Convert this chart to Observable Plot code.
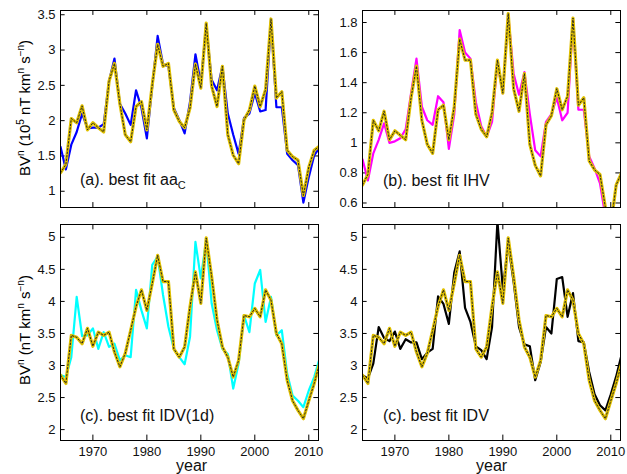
<!DOCTYPE html>
<html><head><meta charset="utf-8">
<script src="https://cdn.jsdelivr.net/npm/d3@7"></script>
<script src="https://cdn.jsdelivr.net/npm/@observablehq/plot@0.6"></script>
<style>
body{margin:0;background:#fff;font-family:"Liberation Sans",Arial,sans-serif;}
#root{position:relative;width:627px;height:474px;}
.p{position:absolute;}
.lab{position:absolute;font-size:16px;color:#111;white-space:nowrap;}
.ylab{position:absolute;font-size:15px;white-space:nowrap;transform:translate(-50%,-50%) rotate(-90deg);}
sup{font-size:10px;} sub{font-size:11px;}
</style></head><body><div id="root"></div>
<script>
const years = d3.range(1964, 2013);
const aaC = [1.63,1.31,1.66,1.84,2.1,1.89,1.9,1.9,1.95,2.56,2.88,2.24,2.1,1.94,2.43,2.18,1.75,2.49,3.2,2.8,2.77,2.18,2.01,1.82,2.27,2.94,2.53,3.34,2.58,2.43,2.77,2.1,1.8,1.53,2.04,2.1,2.39,2.13,2.15,3.42,2.19,2.19,1.53,1.44,1.37,0.84,1.2,1.51,1.62];
const fitA = [1.26,1.38,2.03,1.97,2.21,1.87,1.97,1.9,1.84,2.56,2.81,2.24,1.8,1.7,2.2,2.27,1.87,2.51,3.08,2.77,2.81,2.15,1.99,1.9,2.18,2.8,2.46,3.38,2.49,2.2,2.77,1.8,1.51,1.39,2.01,2.15,2.49,2.2,2.44,3.44,2.32,2.41,1.58,1.49,1.44,0.94,1.34,1.58,1.64];
const ihv = [0.89,0.75,0.93,1.02,1.13,1.0,1.01,1.03,1.09,1.33,1.56,1.24,1.15,1.12,1.31,1.27,0.96,1.19,1.75,1.6,1.56,1.27,1.11,1.04,1.14,1.54,1.33,1.85,1.46,1.32,1.47,1.19,0.95,0.91,1.14,1.19,1.30,1.15,1.2,1.82,1.22,1.22,0.91,0.83,0.73,0.51,0.42,0.35,0.3];
const fitB = [0.72,0.79,1.15,1.08,1.21,1.02,1.08,1.05,1.02,1.30,1.51,1.15,0.99,0.93,1.22,1.25,1.02,1.24,1.69,1.55,1.55,1.19,1.09,1.04,1.2,1.55,1.33,1.86,1.36,1.21,1.46,0.99,0.85,0.78,1.12,1.18,1.36,1.22,1.31,1.83,1.25,1.30,0.88,0.82,0.79,0.57,0.45,0.72,0.8];
const idv1d = [2.85,2.82,3.13,4.07,3.46,3.47,3.58,3.26,3.52,3.29,3.34,3.08,3.16,3.13,4.18,3.86,3.58,4.57,4.7,4.1,3.6,3.26,3.13,3.02,3.45,4.93,4.36,4.96,3.97,3.55,3.26,3.18,2.64,3.03,3.78,3.52,4.28,4.49,3.68,4.07,3.47,3.55,2.87,2.53,2.45,2.35,2.61,2.82,3.11];
const fitC = [2.85,2.72,3.47,3.44,3.34,3.58,3.30,3.52,3.47,3.52,3.21,2.98,3.19,3.55,3.92,4.18,3.86,4.28,4.72,4.31,4.31,3.26,3.13,3.29,3.92,4.46,3.97,4.99,4.39,3.71,3.29,3.13,2.82,3.08,3.78,3.76,3.89,3.76,4.18,4.02,3.50,3.34,2.77,2.45,2.30,2.17,2.45,2.72,3.03];
const idv = [2.85,2.8,3.03,3.6,3.43,3.38,3.53,3.26,3.41,3.36,3.36,3.1,3.2,3.26,4.08,3.96,3.65,4.45,4.78,3.9,3.68,3.3,3.24,3.1,3.6,5.25,4.2,4.9,4.3,3.6,3.33,3.3,2.77,3.05,3.6,3.5,4.35,4.38,3.76,4.13,3.38,3.36,2.9,2.55,2.38,2.3,2.55,2.83,3.17];
const fitD = fitC;
const xTicks = [1970,1980,1990,2000,2010];
const panels = [
 {obs:aaC, fit:fitA, color:"#0000ff", ydom:[0.77,3.56], yt:[1,1.5,2,2.5,3,3.5], left:60, top:10, h:197, xlab:false, fmt:d=>String(d)},
 {obs:ihv, fit:fitB, color:"#ff00ff", ydom:[0.57,1.88], yt:[0.6,0.8,1,1.2,1.4,1.6,1.8], left:362, top:10, h:197, xlab:false, fmt:d=>String(d)},
 {obs:idv1d, fit:fitC, color:"#00ffff", ydom:[1.83,5.2], yt:[2,2.5,3,3.5,4,4.5,5], left:60, top:224, h:216, xlab:true, fmt:d=>String(d)},
 {obs:idv, fit:fitD, color:"#000000", ydom:[1.83,5.2], yt:[2,2.5,3,3.5,4,4.5,5], left:362, top:224, h:216, xlab:true, fmt:d=>String(d)}
];
const xdom=[1964,2011.8];
const root=document.getElementById("root");
panels.forEach(p=>{
  const obs=years.map((y,i)=>({x:y,v:p.obs[i]}));
  const fit=years.map((y,i)=>({x:y,v:p.fit[i]}));
  const ys=p.ydom[1]-p.ydom[0], tl=ys*0.025, tx=(xdom[1]-xdom[0])*0.018;
  const ml=40, mt=4, mb=p.xlab?24:4, mr=6;
  const chart=Plot.plot({
    width:258+ml+mr, height:p.h+mt+mb, marginLeft:ml, marginRight:mr, marginTop:mt, marginBottom:mb,
    style:{fontFamily:"Liberation Sans, Arial, sans-serif", fontSize:"13px", color:"#111", background:"transparent"},
    x:{domain:xdom}, y:{domain:p.ydom},
    marks:[
      Plot.axisY(p.yt,{tickSize:0, tickPadding:5, tickFormat:p.fmt, fontSize:13, label:null}),
      p.xlab?Plot.axisX(xTicks,{tickSize:0, tickPadding:6, tickFormat:d=>String(d), fontSize:13, label:null}):Plot.axisX([],{label:null,tickSize:0}),
      Plot.ruleY(p.yt,{x1:xdom[0],x2:xdom[0]+tx,stroke:"#000"}),
      Plot.ruleY(p.yt,{x1:xdom[1]-tx,x2:xdom[1],stroke:"#000"}),
      Plot.ruleX(xTicks,{y1:p.ydom[0],y2:p.ydom[0]+tl,stroke:"#000"}),
      Plot.ruleX(xTicks,{y1:p.ydom[1]-tl,y2:p.ydom[1],stroke:"#000"}),
      Plot.line(obs,{x:"x",y:"v",stroke:p.color,strokeWidth:2.2,clip:true}),
      Plot.line(fit,{x:"x",y:"v",stroke:"#e0c000",strokeWidth:3.2,clip:true}),
      Plot.line(fit,{x:"x",y:"v",stroke:"#222",strokeWidth:1,strokeDasharray:"1.5,2",clip:true}),
      Plot.frame({stroke:"#000"})
    ]
  });
  chart.classList.add("p");
  chart.style.left=(p.left-ml)+"px"; chart.style.top=(p.top-mt)+"px";
  root.appendChild(chart);
});
function addLab(html,x,y,cls){const d=document.createElement("div");d.className=cls||"lab";d.innerHTML=html;d.style.left=x+"px";d.style.top=y+"px";root.appendChild(d);}
addLab("(a). best fit aa<sub>C</sub>",80,171);
addLab("(b). best fit IHV",383,172);
addLab("(c). best fit IDV(1d)",80,407);
addLab("(c). best fit IDV",383,407);
addLab("year",176,457);
addLab("year",476,457);
addLab("BV<sup>n</sup> (10<sup>5</sup> nT km<sup>n</sup> s<sup>−n</sup>)",24,108,"ylab");
addLab("BV<sup>n</sup> (nT km<sup>n</sup> s<sup>−n</sup>)",24,330,"ylab");
</script></body></html>
